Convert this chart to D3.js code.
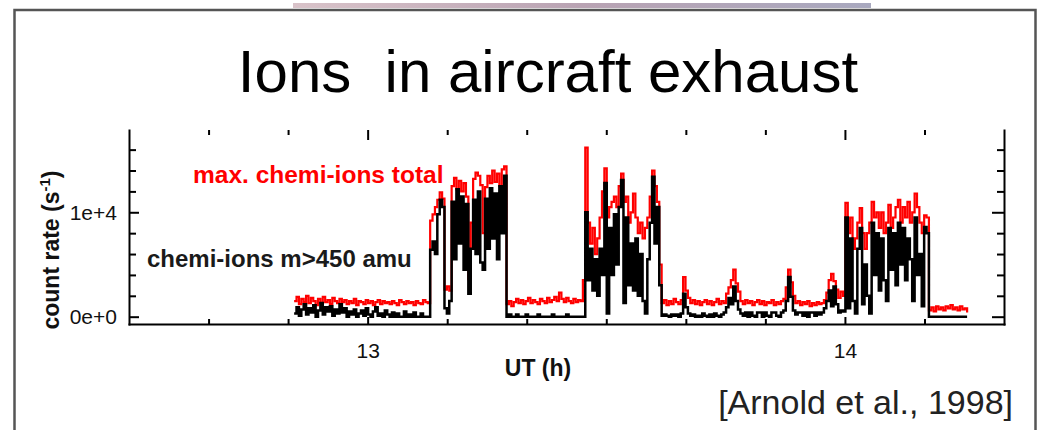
<!DOCTYPE html>
<html lang="en">
<head>
<meta charset="UTF-8">
<script src="https://d3js.org/d3.v7.min.js"></script>
<style>
  body { margin: 0; background: #fff; }
  svg { display: block; font-family: "Liberation Sans", Arial, sans-serif; }
  .axis path, .axis line { stroke: #000; stroke-width: 2; }
  .axis path { stroke-linecap: square; }
  .axis text { font-size: 21px; fill: #111; font-family: "Liberation Sans", Arial, sans-serif; }
</style>
</head>
<body>
<svg id="chart" width="1039" height="430"></svg>
<script>
// count rate (s^-1), one sample every 18 s from 12.846 UT
const startHour = 12.846, sampleStep = 0.005;

const maxTotal = [
  1500,1900,1200,1700,1400,2000,1300,1800,1500,1100,
  1700,1300,1900,1400,1600,1200,1800,1500,1300,1700,
  1400,1600,1200,1500,1300,1700,1100,1500,1400,1200,
  1600,1300,1500,1100,1400,1600,1200,1500,1300,1400,
  1200,1500,1300,1100,1600,1400,1200,1500,1300,1400,
  1100,1500,1300,1200,1600,1400,1300,
  9200,9800,10500,11200,11900,11300,2600,2900,2500,12500,
  13300,12200,13000,12000,12800,11500,3600,9000,13200,13800,
  13500,12600,8000,12400,13500,12800,14000,12900,13700,12500,
  14100,14400,
  1200,1500,1000,1400,1700,1300,1600,1200,1500,1800,
  1300,1600,1400,1200,1700,1500,1300,1800,1400,1600,
  1900,1500,2300,1700,1400,1800,1500,1300,1700,1400,
  1600,1500,3500,
  16200,9000,7000,8500,6000,7500,9500,12000,14200,9500,
  10500,11000,11500,10500,12500,13700,11000,11500,9000,10000,
  11800,9500,8000,9000,7500,8500,9500,11500,14000,12500,
  11000,5000,
  1300,1600,1100,1500,1200,1700,1400,1200,1600,3800,
  2500,1800,1300,1600,1200,1500,1100,1400,1600,1200,
  1500,1100,1400,1700,1200,1500,1300,2200,2800,3500,
  4500,3200,2400,1500,1200,1600,1300,1500,1100,1400,
  1600,1200,1500,1100,1400,1300,1600,1100,1400,1200,
  1500,1700,2800,4500,3300,2000,1300,1500,1100,1400,
  1200,1500,1000,1300,1100,1400,1200,1300,1600,2300,
  3500,4100,3400,2600,1800,2400,
  2000,10900,8000,9500,6500,7500,9000,10400,8000,6500,
  8000,9000,11000,9500,10000,8500,10000,8000,9000,10700,
  8500,9500,10500,11200,9000,10500,9500,11000,9000,10000,
  11800,10500,9000,8000,9700,9500,
  600,900,500,1000,700,900,600,1000,800,1100,700,900,600,1000,700,800,400
];

const heavyIons = [
  300,900,100,700,1200,200,800,400,1100,0,
  600,1300,200,900,500,1000,100,700,300,1200,
  400,800,0,500,200,700,0,300,600,100,
  800,200,0,500,900,100,300,0,600,200,
  0,400,0,300,0,0,500,0,200,0,
  400,0,0,300,0,0,0,
  6400,7200,6000,9800,11200,10500,800,300,1500,11000,
  5500,12200,7000,11500,4500,10800,2200,6500,11200,6000,
  12000,5200,4500,11300,6500,12300,7500,11800,5500,12500,
  8000,13500,
  0,200,0,0,200,0,0,0,200,0,
  0,0,0,200,0,0,0,0,0,200,
  0,0,0,0,0,200,0,0,0,0,
  0,0,0,
  10000,3500,6500,2500,5500,2000,6500,4000,12800,300,
  8500,4000,9800,5000,10500,13100,1300,9500,3000,7000,
  2500,7500,2000,6000,1500,300,5500,9000,13400,7000,
  10500,3000,
  100,200,100,0,200,100,200,0,300,2200,
  900,300,100,200,0,100,0,300,100,0,
  200,0,300,100,0,200,400,900,1800,1200,
  2900,1500,700,300,100,400,0,400,100,0,
  400,400,0,400,100,0,400,400,100,0,
  400,600,1500,3800,1900,600,200,400,400,100,
  400,0,400,400,100,400,200,400,800,1500,
  2500,1000,2900,1200,400,600,
  500,9500,800,7500,1500,300,6500,8500,1200,5000,
  2000,300,9000,4000,8000,2500,7500,3500,1500,8500,
  4500,8000,3000,9000,5000,8500,3500,7500,5500,1500,
  9500,4000,6000,1000,8600,8000,
  0,0,0,0,0,0,0,0,0,0,0,0,0,0,0,0,0
];

const yMajorTicks = [0, 10000];
const yMinorTicks = [2000, 4000, 6000, 8000, 12000, 14000, 16000];
const xMajorTicks = [13, 14];
const xMinorTicks = [12.6667, 12.8333, 13.1667, 13.3333, 13.5, 13.6667, 13.8333, 14.1667];

const svg = d3.select("#chart");

// slide decoration
const grad = svg.append("defs").append("linearGradient").attr("id", "bar");
grad.append("stop").attr("offset", "0%").attr("stop-color", "#d9c3c9");
grad.append("stop").attr("offset", "50%").attr("stop-color", "#b9a3b3");
grad.append("stop").attr("offset", "100%").attr("stop-color", "#a9a9bf");
svg.append("rect").attr("x", 293).attr("y", 3).attr("width", 578).attr("height", 5)
  .attr("fill", "url(#bar)");
svg.append("rect").attr("x", 14.5).attr("y", 10).attr("width", 1021).attr("height", 440)
  .attr("fill", "none").attr("stroke", "#555").attr("stroke-width", 2.5);

svg.append("text").attr("x", 548).attr("y", 92).attr("text-anchor", "middle")
  .style("font-size", "60px").style("white-space", "pre").attr("fill", "#000")
  .text("Ions  in aircraft exhaust");

const x = d3.scaleLinear().domain([12.5, 14.3333]).range([129, 1004]);
const y = d3.scaleLinear().domain([-700, 17880]).range([324, 130]);

// axes: ticks point inward on all four sides
svg.append("g").attr("class", "axis").attr("transform", "translate(0,324)")
  .call(d3.axisBottom(x).tickValues(xMajorTicks).tickSizeInner(-7).tickSizeOuter(0)
    .tickPadding(19).tickFormat(d3.format("d")));
svg.append("g").attr("class", "axis").attr("transform", "translate(0,324)")
  .call(d3.axisBottom(x).tickValues(xMinorTicks).tickSizeInner(-5).tickSizeOuter(0).tickFormat(""))
  .call(g => g.select(".domain").remove());
svg.append("g").attr("class", "axis").attr("transform", "translate(0,130)")
  .call(d3.axisTop(x).tickValues(xMajorTicks).tickSizeInner(-10).tickFormat(""))
  .call(g => g.select(".domain").remove());
svg.append("g").attr("class", "axis").attr("transform", "translate(0,130)")
  .call(d3.axisTop(x).tickValues(xMinorTicks).tickSizeInner(-5).tickFormat(""))
  .call(g => g.select(".domain").remove());

svg.append("g").attr("class", "axis").attr("transform", "translate(129,0)")
  .call(d3.axisLeft(y).tickValues(yMajorTicks).tickSizeInner(-10).tickSizeOuter(0)
    .tickPadding(12).tickFormat(d3.format(".0e")));
svg.append("g").attr("class", "axis").attr("transform", "translate(129,0)")
  .call(d3.axisLeft(y).tickValues(yMinorTicks).tickSizeInner(-7).tickFormat(""))
  .call(g => g.select(".domain").remove());
svg.append("g").attr("class", "axis").attr("transform", "translate(1004,0)")
  .call(d3.axisRight(y).tickValues(yMajorTicks).tickSizeInner(-12).tickSizeOuter(0).tickFormat(""));
svg.append("g").attr("class", "axis").attr("transform", "translate(1004,0)")
  .call(d3.axisRight(y).tickValues(yMinorTicks).tickSizeInner(-7).tickFormat(""))
  .call(g => g.select(".domain").remove());

const line = d3.line()
  .x((d, i) => x(startHour + i * sampleStep))
  .y(d => y(d))
  .curve(d3.curveStepAfter);

svg.append("path").datum(maxTotal).attr("d", line)
  .attr("fill", "none").attr("stroke", "#ff0000").attr("stroke-width", 2.2);
svg.append("path").datum(heavyIons).attr("d", line)
  .attr("fill", "none").attr("stroke", "#000").attr("stroke-width", 2.5);

svg.append("text").attr("x", 193).attr("y", 183)
  .style("font-size", "24.5px").style("font-weight", "bold").attr("fill", "#ff0000")
  .text("max. chemi-ions total");
svg.append("text").attr("x", 147).attr("y", 267)
  .style("font-size", "24px").style("font-weight", "bold").attr("fill", "#1a1a1a")
  .text("chemi-ions m>450 amu");

const ylab = svg.append("text").attr("transform", "translate(59,250) rotate(-90)")
  .attr("text-anchor", "middle").style("font-size", "23px").style("font-weight", "bold")
  .attr("fill", "#111");
ylab.append("tspan").text("count rate (s");
ylab.append("tspan").attr("dy", -9).style("font-size", "15px").text("-1");
ylab.append("tspan").attr("dy", 9).text(")");

svg.append("text").attr("x", 538).attr("y", 376).attr("text-anchor", "middle")
  .style("font-size", "23px").style("font-weight", "bold").attr("fill", "#111")
  .text("UT (h)");

svg.append("text").attr("x", 1013).attr("y", 414).attr("text-anchor", "end")
  .style("font-size", "34px").attr("fill", "#222")
  .text("[Arnold et al., 1998]");
</script>
</body>
</html>
